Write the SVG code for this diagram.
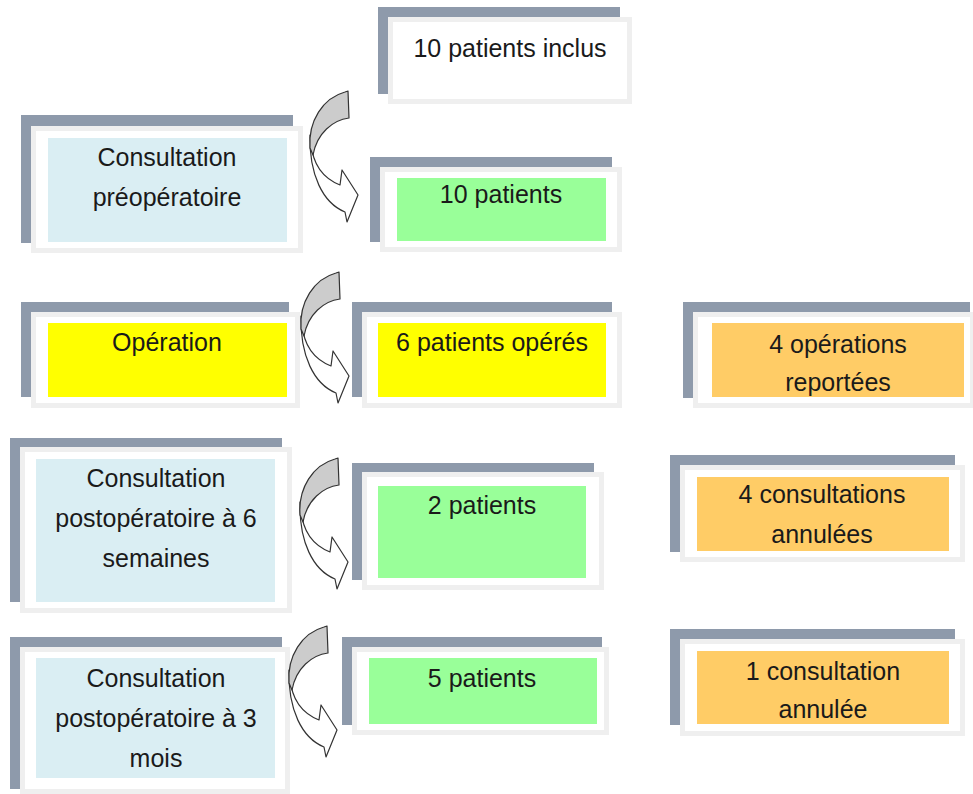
<svg xmlns="http://www.w3.org/2000/svg" xmlns:xlink="http://www.w3.org/1999/xlink" width="973" height="794" viewBox="0 0 973 794">
<style>
.br{fill:#8e9aab}
.fr{fill:#ffffff;stroke:#efefef;stroke-width:5}
.blue{fill:#daeef3}
.green{fill:#99ff99}
.yellow{fill:#ffff00}
.orange{fill:#ffcc66}
.t{font-family:"Liberation Sans",Arial,sans-serif;font-size:25px;fill:#1a1a1a;text-anchor:middle}
.aw{fill:#ffffff;stroke:#333333;stroke-width:1.2;stroke-linejoin:round}
.ag{fill:#cccccc;stroke:#333333;stroke-width:1.2;stroke-linejoin:round}
</style>
<defs>
<g id="carrow">
<path class="aw" d="M15,50 C14,90 28,118 50,127 L52,137 L63,110 L47,85 L45,100 C30,94 18,82 16,58 Z"/>
<path class="ag" d="M50,7 L53,6 L54,33 C38,35 22,48 18,70 L15,63 C13,36 28,13 50,7 Z"/>
</g>
</defs>
<rect width="973" height="794" fill="#ffffff"/>

<g id="n-inclus">
<rect class="br" x="378" y="7" width="242" height="10"/>
<rect class="br" x="378" y="7" width="10" height="87"/>
<rect class="fr" x="390.5" y="19.5" width="239" height="82"/>
<text class="t" x="510" y="57">10 patients inclus</text>
</g>

<g id="n-preop">
<rect class="br" x="21" y="115" width="272" height="11"/>
<rect class="br" x="21" y="115" width="10" height="128"/>
<rect class="fr" x="33.5" y="128.5" width="267" height="122"/>
<rect class="blue" x="48" y="138" width="239" height="104"/>
<text class="t" x="167" y="166">Consultation</text>
<text class="t" x="167" y="206">préopératoire</text>
</g>

<g id="n-10p">
<rect class="br" x="370" y="157" width="242" height="10"/>
<rect class="br" x="370" y="157" width="10" height="85"/>
<rect class="fr" x="382.5" y="169.5" width="237" height="80"/>
<rect class="green" x="397" y="178" width="209" height="63"/>
<text class="t" x="501" y="203">10 patients</text>
</g>

<g id="n-operation">
<rect class="br" x="21" y="302" width="268" height="10"/>
<rect class="br" x="21" y="302" width="10" height="95"/>
<rect class="fr" x="33.5" y="314.5" width="264" height="91"/>
<rect class="yellow" x="48" y="323" width="239" height="74"/>
<text class="t" x="167" y="351">Opération</text>
</g>

<g id="n-6op">
<rect class="br" x="352" y="302" width="260" height="10"/>
<rect class="br" x="352" y="302" width="10" height="95"/>
<rect class="fr" x="364.5" y="314.5" width="255" height="91"/>
<rect class="yellow" x="378" y="323" width="228" height="74"/>
<text class="t" x="492" y="351">6 patients opérés</text>
</g>

<g id="n-4rep">
<rect class="br" x="683" y="302" width="287" height="10"/>
<rect class="br" x="683" y="302" width="10" height="96"/>
<rect class="fr" x="695.5" y="314.5" width="277" height="91"/>
<rect class="orange" x="712" y="323" width="252" height="74"/>
<text class="t" x="838" y="353">4 opérations</text>
<text class="t" x="838" y="391">reportées</text>
</g>

<g id="n-post6">
<rect class="br" x="10" y="438" width="272" height="9"/>
<rect class="br" x="10" y="438" width="10" height="164"/>
<rect class="fr" x="22.5" y="449.5" width="267" height="161"/>
<rect class="blue" x="36" y="459" width="239" height="143"/>
<text class="t" x="156" y="487">Consultation</text>
<text class="t" x="156" y="527">postopératoire à 6</text>
<text class="t" x="156" y="567">semaines</text>
</g>

<g id="n-2p">
<rect class="br" x="352" y="463" width="242" height="9"/>
<rect class="br" x="352" y="463" width="10" height="117"/>
<rect class="fr" x="364.5" y="474.5" width="237" height="113"/>
<rect class="green" x="378" y="486" width="208" height="92"/>
<text class="t" x="482" y="514">2 patients</text>
</g>

<g id="n-4ann">
<rect class="br" x="670" y="455" width="285" height="10"/>
<rect class="br" x="670" y="455" width="10" height="97"/>
<rect class="fr" x="682.5" y="467.5" width="280" height="92"/>
<rect class="orange" x="697" y="477" width="252" height="74"/>
<text class="t" x="822" y="503">4 consultations</text>
<text class="t" x="822" y="543">annulées</text>
</g>

<g id="n-post3">
<rect class="br" x="10" y="637" width="272" height="10"/>
<rect class="br" x="10" y="637" width="10" height="152"/>
<rect class="fr" x="22.5" y="649.5" width="265" height="142"/>
<rect class="blue" x="36" y="658" width="239" height="120"/>
<text class="t" x="156" y="687">Consultation</text>
<text class="t" x="156" y="727">postopératoire à 3</text>
<text class="t" x="156" y="767">mois</text>
</g>

<g id="n-5p">
<rect class="br" x="342" y="637" width="260" height="10"/>
<rect class="br" x="342" y="637" width="10" height="88"/>
<rect class="fr" x="354.5" y="649.5" width="252" height="83"/>
<rect class="green" x="369" y="658" width="228" height="66"/>
<text class="t" x="482" y="687">5 patients</text>
</g>

<g id="n-1ann">
<rect class="br" x="670" y="629" width="285" height="10"/>
<rect class="br" x="670" y="629" width="10" height="96"/>
<rect class="fr" x="682.5" y="641.5" width="280" height="92"/>
<rect class="orange" x="697" y="651" width="252" height="73"/>
<text class="t" x="823" y="680">1 consultation</text>
<text class="t" x="823" y="718">annulée</text>
</g>

<g id="connectors">
<use xlink:href="#carrow" transform="translate(295,85)"/>
<use xlink:href="#carrow" transform="translate(286,266)"/>
<use xlink:href="#carrow" transform="translate(285,452)"/>
<use xlink:href="#carrow" transform="translate(274,620)"/>
</g>
</svg>
